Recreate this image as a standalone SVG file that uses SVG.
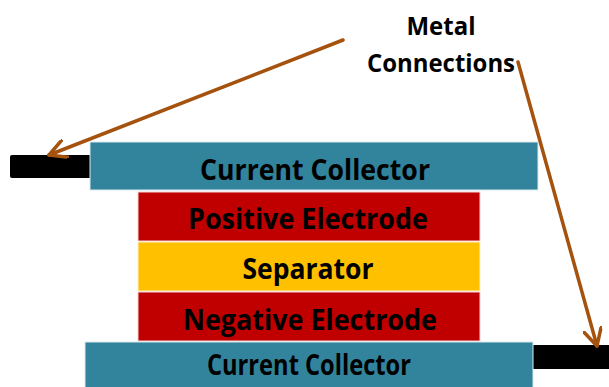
<svg xmlns="http://www.w3.org/2000/svg" width="609" height="387" viewBox="0 0 609 387">
  <defs>
    <style>
      .collector { fill: #31849B; stroke: #dbe9ee; stroke-width: 1; }
      .electrode { fill: #C00000; stroke: #f1d6d6; stroke-width: 1; }
      .separator { fill: #FFC000; stroke: #fff1cc; stroke-width: 1; }
      .tab { fill: #000000; }
      .label { font-family: "Open Sans", "Liberation Sans", sans-serif; font-weight: bold; font-size: 28px; fill: #000000; text-anchor: middle; }
      .note { font-family: "Open Sans", "Liberation Sans", sans-serif; font-weight: bold; font-size: 25px; fill: #000000; text-anchor: middle; }
      .lead { stroke: #A5520E; stroke-width: 3.5; fill: none; stroke-linecap: round; marker-end: url(#head); }
    </style>
    <marker id="head" viewBox="0 0 20 20" refX="18" refY="10" markerWidth="20" markerHeight="20" markerUnits="userSpaceOnUse" orient="auto">
      <path d="M1,1 L18,10 L1,19" fill="none" stroke="#A5520E" stroke-width="3.5" stroke-linecap="round" stroke-linejoin="round"/>
    </marker>
  </defs>

  <!-- terminal tabs -->
  <g id="tab-top">
    <rect class="tab" x="10" y="155" width="82" height="23" rx="2"/>
  </g>
  <g id="tab-bottom">
    <rect class="tab" x="532" y="345" width="80" height="24" rx="2"/>
  </g>

  <!-- cell stack -->
  <g id="collector-top">
    <rect class="collector" x="90" y="142" width="448" height="48"/>
    <text class="label" x="315" y="180" textLength="230" lengthAdjust="spacingAndGlyphs">Current Collector</text>
  </g>
  <g id="positive-electrode">
    <rect class="electrode" x="138" y="192" width="342" height="49"/>
    <text class="label" x="308" y="229" textLength="240" lengthAdjust="spacingAndGlyphs">Positive Electrode</text>
  </g>
  <g id="separator">
    <rect class="separator" x="138" y="242" width="342" height="49"/>
    <text class="label" x="308" y="279" textLength="131" lengthAdjust="spacingAndGlyphs">Separator</text>
  </g>
  <g id="negative-electrode">
    <rect class="electrode" x="138" y="292" width="342" height="49"/>
    <text class="label" x="310" y="330" textLength="254" lengthAdjust="spacingAndGlyphs">Negative Electrode</text>
  </g>
  <g id="collector-bottom">
    <rect class="collector" x="85" y="342" width="448" height="50"/>
    <text class="label" x="309" y="375" font-size="26" textLength="204" lengthAdjust="spacingAndGlyphs">Current Collector</text>
  </g>

  <!-- callout -->
  <g id="metal-connections">
    <text class="note" x="441" y="35" textLength="69" lengthAdjust="spacingAndGlyphs">Metal</text>
    <text class="note" x="441" y="72" textLength="148" lengthAdjust="spacingAndGlyphs">Connections</text>
  </g>

  <g id="connectors">
    <line class="lead" x1="343" y1="40" x2="49" y2="155"/>
    <line class="lead" x1="518" y1="62" x2="597" y2="346"/>
  </g>
</svg>
